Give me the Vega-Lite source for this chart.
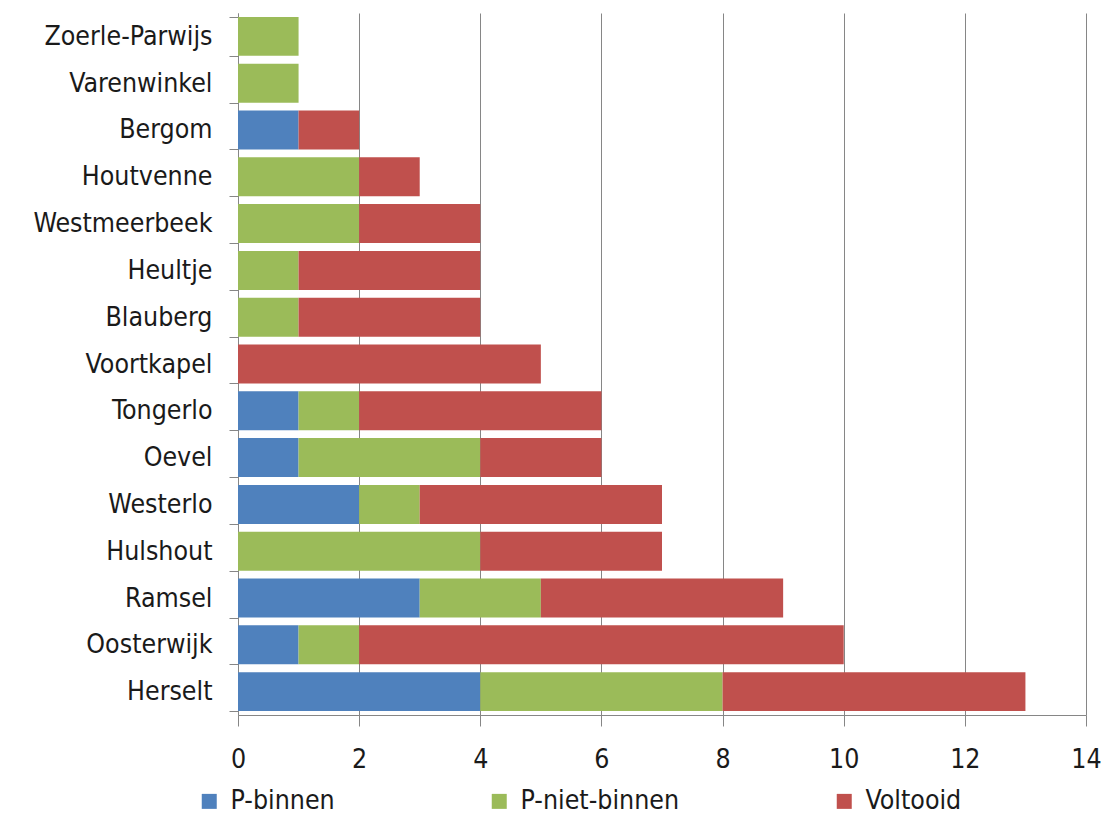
{
  "$schema": "https://vega.github.io/schema/vega-lite/v6.json",
  "autosize": {"type": "none"},
  "width": 848,
  "height": 702,
  "padding": {"left": 238, "top": 13, "right": 24, "bottom": 108},
  "background": "white",
  "data": {"values": [
    {"plaats": "Zoerle-Parwijs", "status": "P-niet-binnen", "aantal": 1},
    {"plaats": "Varenwinkel", "status": "P-niet-binnen", "aantal": 1},
    {"plaats": "Bergom", "status": "P-binnen", "aantal": 1},
    {"plaats": "Bergom", "status": "Voltooid", "aantal": 1},
    {"plaats": "Houtvenne", "status": "P-niet-binnen", "aantal": 2},
    {"plaats": "Houtvenne", "status": "Voltooid", "aantal": 1},
    {"plaats": "Westmeerbeek", "status": "P-niet-binnen", "aantal": 2},
    {"plaats": "Westmeerbeek", "status": "Voltooid", "aantal": 2},
    {"plaats": "Heultje", "status": "P-niet-binnen", "aantal": 1},
    {"plaats": "Heultje", "status": "Voltooid", "aantal": 3},
    {"plaats": "Blauberg", "status": "P-niet-binnen", "aantal": 1},
    {"plaats": "Blauberg", "status": "Voltooid", "aantal": 3},
    {"plaats": "Voortkapel", "status": "Voltooid", "aantal": 5},
    {"plaats": "Tongerlo", "status": "P-binnen", "aantal": 1},
    {"plaats": "Tongerlo", "status": "P-niet-binnen", "aantal": 1},
    {"plaats": "Tongerlo", "status": "Voltooid", "aantal": 4},
    {"plaats": "Oevel", "status": "P-binnen", "aantal": 1},
    {"plaats": "Oevel", "status": "P-niet-binnen", "aantal": 3},
    {"plaats": "Oevel", "status": "Voltooid", "aantal": 2},
    {"plaats": "Westerlo", "status": "P-binnen", "aantal": 2},
    {"plaats": "Westerlo", "status": "P-niet-binnen", "aantal": 1},
    {"plaats": "Westerlo", "status": "Voltooid", "aantal": 4},
    {"plaats": "Hulshout", "status": "P-niet-binnen", "aantal": 4},
    {"plaats": "Hulshout", "status": "Voltooid", "aantal": 3},
    {"plaats": "Ramsel", "status": "P-binnen", "aantal": 3},
    {"plaats": "Ramsel", "status": "P-niet-binnen", "aantal": 2},
    {"plaats": "Ramsel", "status": "Voltooid", "aantal": 4},
    {"plaats": "Oosterwijk", "status": "P-binnen", "aantal": 1},
    {"plaats": "Oosterwijk", "status": "P-niet-binnen", "aantal": 1},
    {"plaats": "Oosterwijk", "status": "Voltooid", "aantal": 8},
    {"plaats": "Herselt", "status": "P-binnen", "aantal": 4},
    {"plaats": "Herselt", "status": "P-niet-binnen", "aantal": 4},
    {"plaats": "Herselt", "status": "Voltooid", "aantal": 5}
  ]},
  "mark": {"type": "bar"},
  "encoding": {
    "y": {
      "field": "plaats", "type": "nominal", "sort": null,
      "scale": {"paddingInner": 0.167, "paddingOuter": 0.083},
      "axis": {
        "title": null, "tickBand": "extent", "grid": false,
        "domainColor": "#868686", "tickColor": "#868686", "tickSize": 9,
        "labelFont": "DejaVu Sans Condensed, Roboto", "labelFontSize": 26.5, "labelColor": "#1a1a1a",
        "labelPadding": 17, "labelLimit": 400
      }
    },
    "x": {
      "field": "aantal", "type": "quantitative", "aggregate": "sum", "stack": "zero",
      "scale": {"domain": [0, 14], "nice": false},
      "axis": {
        "title": null, "values": [0, 2, 4, 6, 8, 10, 12, 14], "grid": true,
        "gridColor": "#868686", "domainColor": "#868686", "tickColor": "#868686", "tickSize": 11,
        "labelFont": "DejaVu Sans Condensed, Roboto", "labelFontSize": 26.5, "labelColor": "#1a1a1a",
        "labelPadding": 20, "labelFlush": false
      }
    },
    "color": {
      "field": "status", "type": "nominal",
      "scale": {"domain": ["P-binnen", "P-niet-binnen", "Voltooid"], "range": ["#4F81BD", "#9BBB59", "#C0504D"]},
      "legend": {
        "title": null, "orient": "none", "legendX": -42, "legendY": 775,
        "direction": "horizontal", "columns": 3, "columnPadding": 151,
        "symbolType": "square", "symbolSize": 225, "symbolStrokeWidth": 0, "symbolOpacity": 1,
        "labelFont": "DejaVu Sans Condensed, Roboto", "labelFontSize": 26.5, "labelColor": "#1a1a1a",
        "labelOffset": 8, "labelLimit": 400
      }
    }
  },
  "config": {"view": {"stroke": null}}
}
